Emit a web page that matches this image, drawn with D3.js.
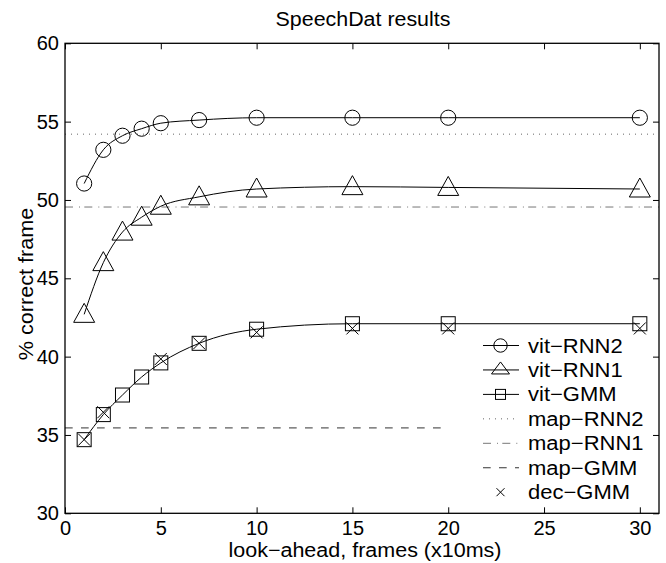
<!DOCTYPE html>
<html>
<head>
<meta charset="utf-8">
<script src="https://cdn.jsdelivr.net/npm/d3@7"></script>
<style>
  body { margin: 0; background: #fff; }
  text { font-family: "Liberation Sans", Arial, sans-serif; fill: #000; }
</style>
</head>
<body>
<div id="chart"></div>
<script>
// look-ahead in frames
const lookAhead = [1, 2, 3, 4, 5, 7, 10, 15, 20, 30];
const vitRNN2 = [51.05, 53.2, 54.1, 54.55, 54.9, 55.1, 55.25, 55.25, 55.25, 55.25];
const vitRNN1 = [42.7, 46.0, 47.95, 48.9, 49.6, 50.2, 50.7, 50.85, 50.8, 50.7];
const vitGMM = [34.7, 36.3, 37.55, 38.7, 39.6, 40.85, 41.75, 42.1, 42.1, 42.1];
const decX = [1, 2, 5, 7, 10, 15, 20, 30];
const decGMM = [34.7, 36.45, 39.85, 40.85, 41.55, 41.8, 41.8, 41.8];
const mapRNN2 = 54.2, mapRNN1 = 49.55, mapGMM = 35.45;
const mapGMMxEnd = 20;

const xTicks = [0, 5, 10, 15, 20, 25, 30];
const yTicks = [30, 35, 40, 45, 50, 55, 60];
const legendNames = ["vit\u2212RNN2", "vit\u2212RNN1", "vit\u2212GMM", "map\u2212RNN2", "map\u2212RNN1", "map\u2212GMM", "dec\u2212GMM"];

const width = 666, height = 563;
const pLeft = 65, pRight = 659, pTop = 43.3, pBottom = 513.3;

const svg = d3.select("#chart").append("svg")
  .attr("width", width)
  .attr("height", height);

const x = d3.scaleLinear().domain([0, 31]).range([pLeft, pRight]);
const y = d3.scaleLinear().domain([30, 60]).range([pBottom, pTop]);

// the original font is a bit wider than Liberation Sans
function widen(sel, k) {
  sel.each(function() {
    const len = this.getComputedTextLength();
    if (len > 0) {
      d3.select(this).attr("textLength", len * k).attr("lengthAdjust", "spacingAndGlyphs");
    }
  });
}

// symbols
function marker(sel, type) {
  if (type === "o") {
    sel.append("circle").attr("r", 7.6);
  } else if (type === "^") {
    sel.append("path").attr("d", "M0,-11L10.5,8L-10.5,8Z");
  } else if (type === "s") {
    sel.append("rect").attr("x", -7).attr("y", -7).attr("width", 14).attr("height", 14);
  } else if (type === "x") {
    sel.append("path").attr("d", "M-6,-6L6,6M-6,6L6,-6");
  }
  sel.selectAll("*").attr("fill", "none").attr("stroke", "#000").attr("stroke-width", 1);
}

// horizontal reference lines
const refLines = [
  { v: mapRNN2, x1: 0, x2: 31, dash: "1,5", color: "#666" },
  { v: mapRNN1, x1: 0, x2: 31, dash: "8,6,1,4.3", color: "#777" },
  { v: mapGMM, x1: 0, x2: mapGMMxEnd, dash: "7.7,8.3", color: "#333" }
];
svg.selectAll(".ref").data(refLines).enter().append("line")
  .attr("x1", d => x(d.x1)).attr("x2", d => x(d.x2))
  .attr("y1", d => y(d.v)).attr("y2", d => y(d.v))
  .attr("stroke", d => d.color)
  .attr("stroke-width", 1)
  .attr("stroke-dasharray", d => d.dash);

const line = d3.line()
  .x(d => x(d[0]))
  .y(d => y(d[1]))
  .curve(d3.curveMonotoneX);

const series = [
  { vals: vitRNN2, m: "o" },
  { vals: vitRNN1, m: "^" },
  { vals: vitGMM, m: "s" }
];

series.forEach(s => {
  const pts = lookAhead.map((k, i) => [k, s.vals[i]]);
  svg.append("path")
    .attr("d", line(pts))
    .attr("fill", "none")
    .attr("stroke", "#000")
    .attr("stroke-width", 1);
  svg.selectAll(null).data(pts).enter().append("g")
    .attr("transform", d => `translate(${x(d[0])},${y(d[1])})`)
    .each(function() { marker(d3.select(this), s.m); });
});

svg.selectAll(null).data(decX.map((k, i) => [k, decGMM[i]])).enter().append("g")
  .attr("transform", d => `translate(${x(d[0])},${y(d[1])})`)
  .each(function() { marker(d3.select(this), "x"); });

// axes (box with inward ticks)
const fontSize = "20px";
const xb = svg.append("g").attr("transform", `translate(0,${pBottom})`)
  .call(d3.axisBottom(x).tickValues(xTicks).tickSizeInner(-6).tickSizeOuter(0).tickPadding(8));
const xt = svg.append("g").attr("transform", `translate(0,${pTop})`)
  .call(d3.axisTop(x).tickValues(xTicks).tickSizeInner(-6).tickSizeOuter(0).tickFormat(""));
const yl = svg.append("g").attr("transform", `translate(${pLeft},0)`)
  .call(d3.axisLeft(y).tickValues(yTicks).tickSizeInner(-6).tickSizeOuter(0).tickPadding(6));
const yr = svg.append("g").attr("transform", `translate(${pRight},0)`)
  .call(d3.axisRight(y).tickValues(yTicks).tickSizeInner(-6).tickSizeOuter(0).tickFormat(""));

[xb, xt, yl, yr].forEach(a => {
  a.select(".domain").remove();
  a.selectAll(".tick line").attr("stroke", "#000").attr("stroke-width", 1);
  a.selectAll("text").attr("font-size", fontSize).attr("font-family", null).attr("fill", "#000");
});
yl.selectAll("text").attr("dy", "0.32em");

svg.append("rect")
  .attr("x", pLeft).attr("y", pTop)
  .attr("width", pRight - pLeft).attr("height", pBottom - pTop)
  .attr("fill", "none").attr("stroke", "#000").attr("stroke-width", 1.3);

// labels
const title = svg.append("text").attr("x", 363).attr("y", 25.5)
  .attr("text-anchor", "middle").attr("font-size", fontSize)
  .text("SpeechDat results");
const xLabel = svg.append("text").attr("x", 365).attr("y", 556.5)
  .attr("text-anchor", "middle").attr("font-size", fontSize)
  .text("look\u2212ahead, frames (x10ms)");
const yLabel = svg.append("text").attr("transform", "translate(33,284) rotate(-90)")
  .attr("text-anchor", "middle").attr("font-size", fontSize)
  .text("% correct frame");
widen(title, 1.07);
widen(xLabel, 1.075);
widen(yLabel, 1.08);

// legend
const legY0 = 345.5, legStep = 24.45;
const legend = svg.append("g");
const legStyles = [
  { m: "o" }, { m: "^" }, { m: "s" },
  { dash: "1,5", color: "#666" },
  { dash: "8,6,1,4.3", color: "#777" },
  { dash: "7.7,8.3", color: "#333" },
  { m: "x", noLine: true }
];
legendNames.forEach((name, i) => {
  const gy = legY0 + i * legStep;
  const st = legStyles[i];
  if (!st.noLine) {
    legend.append("line")
      .attr("x1", 483).attr("x2", 519).attr("y1", gy).attr("y2", gy)
      .attr("stroke", st.color || "#000").attr("stroke-width", 1)
      .attr("stroke-dasharray", st.dash || null);
  }
  if (st.m) {
    const g = legend.append("g").attr("transform", `translate(500.5,${gy})`);
    if (st.m === "o") g.append("circle").attr("r", 6.7);
    else if (st.m === "^") g.append("path").attr("d", "M0,-8L9,4L-9,4Z");
    else if (st.m === "s") g.append("rect").attr("x", -5).attr("y", -5).attr("width", 10).attr("height", 10);
    else g.append("path").attr("d", "M-4,-4L4,4M-4,4L4,-4");
    g.selectAll("*").attr("fill", "none").attr("stroke", "#000").attr("stroke-width", 1);
  }
  const t = legend.append("text")
    .attr("x", 528).attr("y", gy).attr("dy", "0.35em")
    .attr("font-size", fontSize)
    .text(name);
  widen(t, 1.1);
});
</script>
</body>
</html>
